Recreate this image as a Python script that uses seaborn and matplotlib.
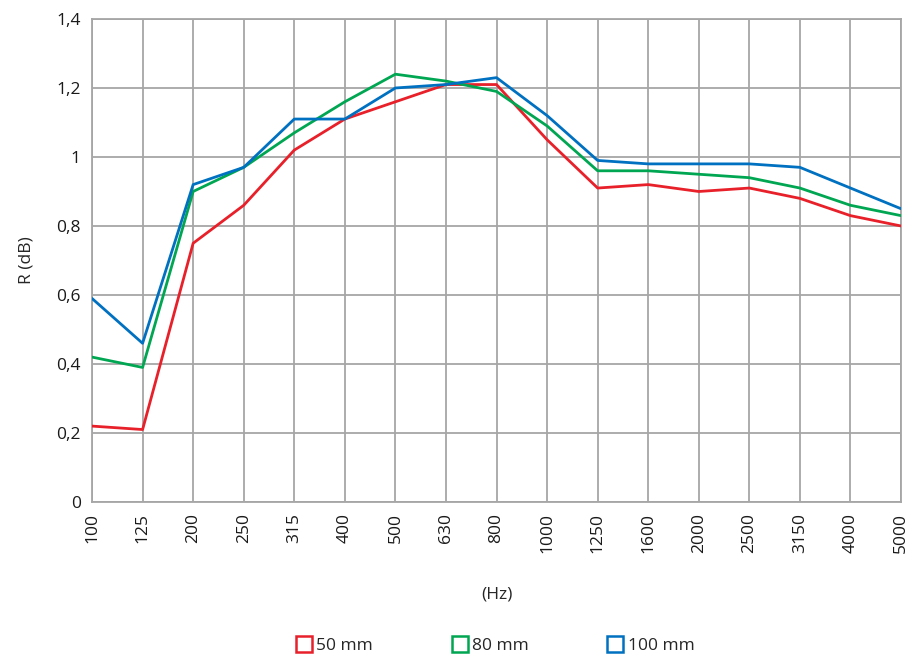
import numpy as np
import pandas as pd
import seaborn as sns
import matplotlib.pyplot as plt
from matplotlib.lines import Line2D

# Frequency bands (Hz)
frequencies = ["100", "125", "200", "250", "315", "400", "500", "630", "800",
               "1000", "1250", "1600", "2000", "2500", "3150", "4000", "5000"]

# Measured R (dB) per panel thickness
r_50mm = [0.22, 0.21, 0.75, 0.86, 1.02, 1.11, 1.16, 1.21, 1.21,
          1.05, 0.91, 0.92, 0.90, 0.91, 0.88, 0.83, 0.80]
r_80mm = [0.42, 0.39, 0.90, 0.97, 1.07, 1.16, 1.24, 1.22, 1.19,
          1.09, 0.96, 0.96, 0.95, 0.94, 0.91, 0.86, 0.83]
r_100mm = [0.59, 0.46, 0.92, 0.97, 1.11, 1.11, 1.20, 1.21, 1.23,
           1.12, 0.99, 0.98, 0.98, 0.98, 0.97, 0.91, 0.85]

series_names = ["50 mm", "80 mm", "100 mm"]
series_values = [r_50mm, r_80mm, r_100mm]
colors = ["#E8202A", "#00A651", "#0070C0"]

y_ticks = [0, 0.2, 0.4, 0.6, 0.8, 1.0, 1.2, 1.4]
y_tick_labels = ["0", "0,2", "0,4", "0,6", "0,8", "1", "1,2", "1,4"]

rows = []
for name, vals in zip(series_names, series_values):
    for i, (f, v) in enumerate(zip(frequencies, vals)):
        rows.append({"pos": i, "freq": f, "R": v, "series": name})
df = pd.DataFrame(rows)

sns.set_style("white")
plt.rcParams["font.family"] = ["Open Sans", "DejaVu Sans"]

fig = plt.figure(figsize=(9.23, 6.55), dpi=100)
ax = fig.add_axes([0.0997, 0.2336, 0.8765, 0.7374])

sns.lineplot(data=df, x="pos", y="R", hue="series", hue_order=series_names,
             palette=colors, linewidth=2.0, legend=False, ax=ax, zorder=3)

grid_color = "#A6A6A6"
ax.set_xlim(0, len(frequencies) - 1)
ax.set_ylim(0, 1.4)
ax.set_xticks(range(len(frequencies)))
ax.set_xticklabels(frequencies, rotation=90, fontsize=12.5, color="#1a1a1a")
ax.set_yticks(y_ticks)
ax.set_yticklabels(y_tick_labels, fontsize=12.5, color="#1a1a1a")
ax.tick_params(axis="both", length=0, pad=8)
ax.grid(True, color=grid_color, linewidth=1.3)
for side, sp in ax.spines.items():
    sp.set_color(grid_color)
    sp.set_linewidth(1.3)

ax.set_xlabel("(Hz)", fontsize=12.5, labelpad=24)
ax.set_ylabel("R (dB)", fontsize=12.5, labelpad=16)

handles = [Line2D([], [], linestyle="none", marker="s", markersize=11,
                  markerfacecolor="none", markeredgecolor=c, markeredgewidth=1.8)
           for c in colors]
fig.legend(handles, series_names, loc="center", bbox_to_anchor=(0.537, 0.014),
           ncol=3, frameon=False, fontsize=12.5, handlelength=0.8,
           handletextpad=0.3, columnspacing=4.6)

fig.savefig("out.png", dpi=100)
